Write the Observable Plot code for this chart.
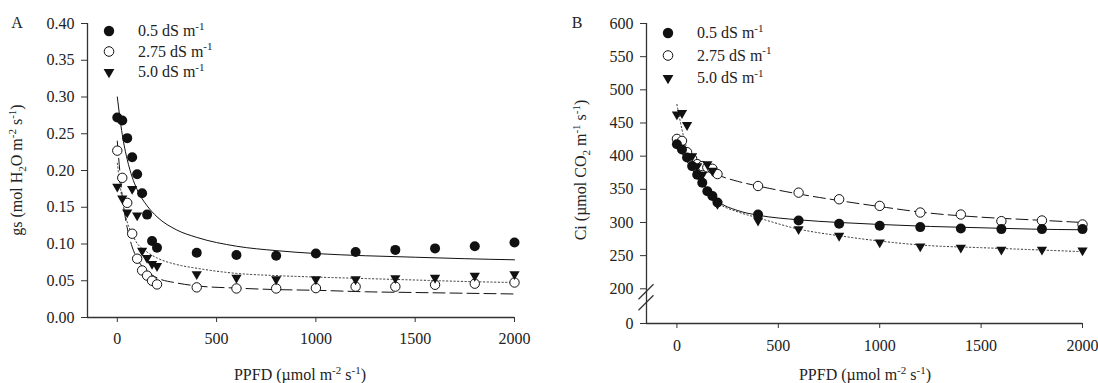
<!DOCTYPE html>
<html><head><meta charset="utf-8">
<script src="https://cdn.jsdelivr.net/npm/d3@7"></script>
<script src="https://cdn.jsdelivr.net/npm/@observablehq/plot@0.6"></script>
<style>
body{margin:0;background:#fff;}
#wrap{position:relative;width:1098px;height:383px;overflow:hidden;}
#wrap svg{position:absolute;top:0;}
</style></head><body><div id="wrap"></div>
<script>
// ---------- data ----------
const ppfd = [0,25,50,75,100,125,150,175,200,400,600,800,1000,1200,1400,1600,1800,2000];
const seriesNames = ["0.5 dS m", "2.75 dS m", "5.0 dS m"];
// Panel A: gs
const gs05  = [0.272,0.268,0.244,0.218,0.195,0.169,0.140,0.104,0.095,0.088,0.085,0.084,0.087,0.089,0.092,0.094,0.097,0.102];
const gs275 = [0.227,0.190,0.156,0.114,0.080,0.064,0.057,0.050,0.045,0.041,0.0395,0.0395,0.040,0.042,0.042,0.0445,0.046,0.0476];
const gs50  = [0.178,0.162,0.143,0.175,0.139,0.091,0.081,0.073,0.070,0.059,0.054,0.052,0.052,0.052,0.0536,0.054,0.0567,0.059];
// Panel B: Ci
const ci05  = [418,410,398,385,372,360,347,340,330,312,303,298,295,293,291,290,290,290];
const ci275 = [426,423,406,396,388,385,383,381,373,355,345,335,325,315,312,302,303,297];
const ci50  = [463,465,447,400,385,372,388,378,328,303,290,280,270,264,262,259,259,258];
// fitted curves
const fitX     = [0,25,50,75,100,150,200,300,400,600,800,1000,1250,1500,1750,2000];
const fitA05   = [0.300,0.249,0.215,0.191,0.174,0.152,0.137,0.119,0.109,0.097,0.091,0.087,0.084,0.082,0.080,0.0785];
const fitA275  = [0.240,0.165,0.122,0.096,0.080,0.063,0.054,0.047,0.043,0.040,0.038,0.037,0.035,0.034,0.033,0.032];
const fitA50   = [0.210,0.160,0.130,0.113,0.101,0.089,0.081,0.072,0.067,0.060,0.057,0.055,0.053,0.051,0.049,0.0476];
const fitB05   = [418,405,392,380,369,350,333,318,311,304,300,297,294,292,290,289];
const fitB275  = [425,415,405,397,390,380,372,362,355,343,333,324,314,308,304,300];
const fitB50   = [478,440,410,385,368,345,330,316,307,290,280,272,265,262,259,256];
// ticks
const xTicks  = [0,500,1000,1500,2000];
const yTicksA = [0,0.05,0.10,0.15,0.20,0.25,0.30,0.35,0.40];
const yTicksB = [0,200,250,300,350,400,450,500,550,600];
const xDomain = [-150, 2000];
const yDomainA = [0, 0.40];
const yDomainB = [0, 200, 600];

// ---------- helpers ----------
const FONT = "'Liberation Serif','Times New Roman',serif";
const FS = 16;
const INK = "#222";
const rows = (xs, ys) => xs.map((x, i) => ({x, y: ys[i]}));
const triDown = {draw(ctx, size){ const y = Math.sqrt(size/(3*Math.sqrt(3))); ctx.moveTo(0,2*y); ctx.lineTo(Math.sqrt(3)*y,-y); ctx.lineTo(-Math.sqrt(3)*y,-y); ctx.closePath(); }};
const lineStyles = [
  {stroke:"#111", strokeWidth:1},
  {stroke:"#111", strokeWidth:1, strokeDasharray:"12,5"},
  {stroke:"#333", strokeWidth:1, strokeDasharray:"1.3,2.4"}
];
function dotMarks(d05, d275, d50){
  return [
    Plot.dot(rows(ppfd, d275), {x:"x", y:"y", r:4.7, fill:"white", stroke:"#111", strokeWidth:1}),
    Plot.dot(rows(ppfd, d05),  {x:"x", y:"y", r:5, fill:"#111"}),
    Plot.dot(rows(ppfd, d50),  {x:"x", y:"y", r:3.8, symbol:triDown, fill:"#111"})
  ];
}
function lineMarks(f05, f275, f50){
  return [
    Plot.line(rows(fitX, f05),  {x:"x", y:"y", curve:"monotone-x", ...lineStyles[0]}),
    Plot.line(rows(fitX, f275), {x:"x", y:"y", curve:"monotone-x", ...lineStyles[1]}),
    Plot.line(rows(fitX, f50),  {x:"x", y:"y", curve:"monotone-x", ...lineStyles[2]})
  ];
}
function rich(sel, x, y, parts, opts = {}){
  const t = sel.append("text").attr("x", x).attr("y", y)
    .attr("font-family", FONT).attr("font-size", opts.size || FS).attr("fill", INK)
    .attr("text-anchor", opts.anchor || "middle");
  if (opts.rotate) t.attr("transform", `rotate(-90 ${x} ${y})`);
  let shift = 0;
  for (const [s, k] of parts){
    const target = k === "sup" ? -6.5 : k === "sub" ? 4 : 0;
    const ts = t.append("tspan").text(s);
    if (target !== shift) ts.attr("dy", target - shift);
    if (k) ts.attr("font-size", 11);
    shift = target;
  }
  return t;
}
function legend(svg, x0, y0, dy){
  const g = svg.append("g");
  const sym = [
    s => s.append("circle").attr("r",5.2).attr("fill","#111"),
    s => s.append("circle").attr("r",4.8).attr("fill","white").attr("stroke","#111"),
    s => s.append("path").attr("d", d3.symbol(triDown, 4*4*Math.PI)()).attr("fill","#111")
  ];
  seriesNames.forEach((name, i) => {
    const gg = g.append("g").attr("transform", `translate(${x0},${y0 + i*dy})`);
    sym[i](gg);
    rich(g, x0 + 29, y0 + i*dy + 5, [[name, null], ["-1", "sup"]], {anchor:"start"});
  });
}
const baseStyle = {fontFamily: FONT, fontSize: FS + "px", color: INK, background: "#fff", overflow: "visible"};

// ---------- panel A ----------
const A = Plot.plot({
  width: 549, height: 383,
  marginLeft: 87, marginRight: 35, marginTop: 23, marginBottom: 66,
  style: baseStyle,
  x: {domain: xDomain, ticks: xTicks, tickFormat: d3.format("d"), tickSize: 5, tickPadding: 10, label: null},
  y: {domain: yDomainA, ticks: yTicksA, tickFormat: d3.format(".2f"), tickSize: 6, tickPadding: 7, label: null},
  marks: [
    ...lineMarks(fitA05, fitA275, fitA50),
    ...dotMarks(gs05, gs275, gs50),
    Plot.ruleY([yDomainA[0]], {stroke:"#333", strokeWidth:1.3}),
    Plot.ruleX([xDomain[0]], {stroke:"#333", strokeWidth:1.3})
  ]
});
A.style.left = "0px";

// ---------- panel B ----------
const B = Plot.plot({
  width: 549, height: 383,
  marginLeft: 97, marginRight: 16, marginTop: 23, marginBottom: 60,
  style: baseStyle,
  x: {domain: xDomain, ticks: xTicks, tickFormat: d3.format("d"), tickSize: 5, tickPadding: 11, label: null},
  y: {type: "linear", domain: yDomainB, range: [323, 288.3, 23], ticks: yTicksB, tickFormat: d3.format("d"), tickSize: 6, tickPadding: 7, label: null},
  marks: [
    ...lineMarks(fitB05, fitB275, fitB50),
    ...dotMarks(ci05, ci275, ci50),
    Plot.ruleY([yDomainB[0]], {stroke:"#333", strokeWidth:1.3}),
    Plot.ruleX([xDomain[0]], {stroke:"#333", strokeWidth:1.3})
  ]
});
B.style.left = "549px";

const wrap = document.getElementById("wrap");
wrap.appendChild(A);
wrap.appendChild(B);

// axis colors
for (const s of [A, B]) {
  d3.select(s).selectAll("[aria-label$='axis'] path, [aria-label$='tick'] path").attr("stroke", "#333");
}

// ---------- annotations A ----------
const sa = d3.select(A);
sa.append("text").attr("x", 17).attr("y", 28).attr("font-family", FONT).attr("font-size", FS).attr("fill", INK).text("A");
rich(sa, 300, 380, [["PPFD (µmol m", null], ["-2", "sup"], [" s", null], ["-1", "sup"], [")", null]]);
rich(sa, 22, 170, [["gs (mol H", null], ["2", "sub"], ["O m", null], ["-2", "sup"], [" s", null], ["-1", "sup"], [")", null]], {rotate: true});
legend(sa, 109, 31, 20.5);

// ---------- annotations B ----------
const sb = d3.select(B);
sb.append("text").attr("x", 577 - 549).attr("y", 28).attr("font-family", FONT).attr("font-size", FS).attr("fill", INK).text("B");
rich(sb, 865 - 549, 380, [["PPFD (µmol m", null], ["-2", "sup"], [" s", null], ["-1", "sup"], [")", null]]);
rich(sb, 586 - 549, 170, [["Ci (µmol CO", null], ["2", "sub"], [" m", null], ["-1", "sup"], [" s", null], ["-1", "sup"], [")", null]], {rotate: true});
legend(sb, 668 - 549, 33, 22.5);
// axis break marks
const yB = B.scale("y");
const yb = yB.apply(200) + 9;
const xb = 97;
for (const off of [-5.5, 5.5]) {
  sb.append("line").attr("x1", xb - 7.5).attr("y1", yb + off + 7.5).attr("x2", xb + 7.5).attr("y2", yb + off - 7.5)
    .attr("stroke", "#333").attr("stroke-width", 1.3);
}
</script></body></html>
